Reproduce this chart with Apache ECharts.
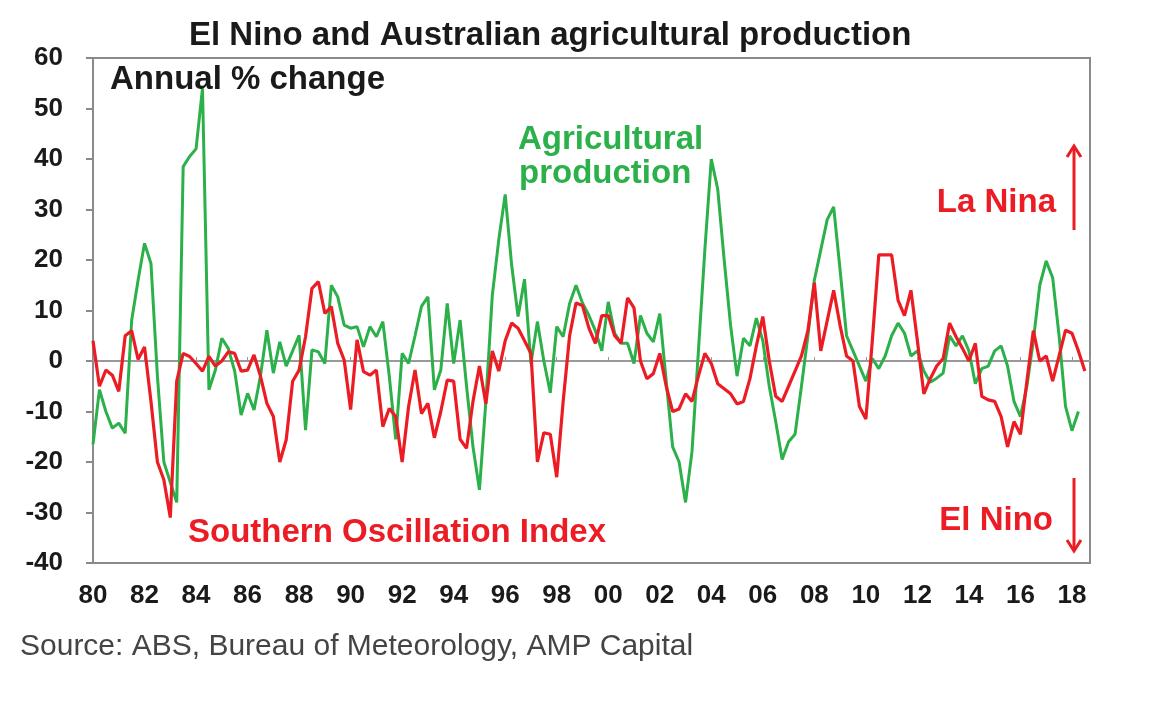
<!DOCTYPE html>
<html>
<head>
<meta charset="utf-8">
<title>El Nino and Australian agricultural production</title>
<script src="https://cdn.jsdelivr.net/npm/echarts@6/dist/echarts.min.js"></script>
<style>
  html, body { margin: 0; padding: 0; background: #fff; }
  #chart { width: 1160px; height: 704px; }
</style>
</head>
<body>
<div id="chart"></div>
<script>
/* =========================================
   1. DATA (quarterly, annual % change)
   ========================================= */
const firstYear = 1980;
const quartersPerYear = 4;
const yearTicks = [80, 82, 84, 86, 88, 90, 92, 94, 96, 98, 0, 2, 4, 6, 8, 10, 12, 14, 16, 18];

// Agricultural production, annual % change, from Q1 1980
const agriProduction = [
  -16.5, -5.7, -10, -13.3, -12.3, -14.3, 8, 16, 23.3, 19.3,
  -3, -20, -24, -28, 38.5, 40.5, 42, 54, -5.7, -1.8,
  4.5, 2.5, -2, -10.7, -6.4, -9.7, -3, 6.1, -2.4, 3.8,
  -1, 2, 5.1, -13.7, 2.2, 1.8, -0.5, 15, 12.7, 7.1,
  6.5, 6.8, 2.8, 6.8, 4.8, 7.8, -3, -15.5, 1.5, -0.5,
  5, 10.8, 12.7, -5.7, -1.8, 11.4, -0.5, 8.1, -5, -17,
  -25.5, -8, 13, 24, 33, 19, 8.8, 16.2, -0.5, 7.8,
  0, -6.3, 6.8, 4.8, 11.4, 15, 11.5, 9, 6, 2,
  11.7, 5.5, 3.5, 3.5, -0.5, 9, 5.5, 3.8, 9.4, -4,
  -17, -20, -28, -18, 2, 22, 40, 34, 20, 7,
  -3, 4.5, 3, 8.5, 4, -5, -12, -19.5, -16, -14.5,
  -5, 5, 16, 22, 28, 30.5, 18, 5, 2, -1,
  -4, 0.5, -1.5, 1, 5, 7.5, 5.5, 1, 2, -2,
  -4.2, -3.4, -2.4, 5, 3, 5, 2, -4.5, -1.5, -1,
  2, 3, -1, -8, -11, -5, 4, 15, 19.8, 16.5,
  5, -9, -13.8, -10
];

// Southern Oscillation Index, from Q1 1980
const soiIndex = [
  4, -5, -1.8, -2.8, -6, 5, 6, 0.3, 2.8, -8,
  -20, -23.5, -31, -4, 1.5, 0.9, -0.5, -2, 0.9, -1,
  0, 1.8, 1.5, -2, -1.8, 1.2, -3, -8.4, -11, -20,
  -15.6, -4, -1.8, 4.8, 14.4, 15.7, 9.4, 10.8, 3.5, 0.2,
  -9.6, 4.2, -2.1, -2.8, -1.8, -13, -9.4, -11, -20, -9,
  -1.8, -10.4, -8.4, -15.2, -10, -3.8, -4, -15.5, -17.3, -8,
  -1, -8.5, 2, -2, 4, 7.5, 6.5, 4, 1.5, -20,
  -14.2, -14.5, -23, -8, 5, 11.5, 11, 6.5, 3.5, 9,
  9, 5, 3.5, 12.5, 10.5, 0, -3.5, -2.5, 1.5, -5,
  -10, -9.5, -6.5, -8, -3, 1.5, -0.5, -4.5, -5.5, -6.5,
  -8.5, -8, -3.5, 3, 8.8, 0, -7, -8, -5, -2,
  1, 6, 15.5, 2, 8, 14, 7, 1, 0, -9,
  -11.5, 4, 21, 21, 21, 12, 9, 14, 4, -6.5,
  -3.5, -1, 0.5, 7.5, 4.8, 2.5, 0, 3.5, -7, -7.7,
  -8, -11, -17, -12, -14.5, -4, 6, 0, 1, -4,
  1, 6.1, 5.5, 2, -2
];

const GREEN = "#2bb04a";
const RED = "#ec1c24";
const FRAME = "#8a8a8a";
const FONT = "'Liberation Sans', Arial, Helvetica, sans-serif";

function toPoints(values) {
  return values.map((v, i) => [firstYear + i / quartersPerYear, v]);
}

/* =========================================
   2. CHART
   ========================================= */
function initChart() {
  const dom = document.getElementById("chart");
  const chart = echarts.init(dom, null, { renderer: "canvas" });

  const textStyle = (size, color, weight) => ({
    fontFamily: FONT, fontSize: size, fontWeight: weight || "bold", color: color
  });

  const option = {
    backgroundColor: "#ffffff",
    animation: false,
    title: {
      text: "El Nino and Australian agricultural production",
      left: 184,
      top: 14,
      textStyle: textStyle(33, "#1a1a1a")
    },
    grid: {
      left: 93, right: 70, top: 58, bottom: 141,
      show: true, borderColor: FRAME, borderWidth: 2
    },
    xAxis: [
      {
        type: "value",
        min: 1980, max: 2018.7, interval: 2,
        position: "bottom",
        axisLine: { onZero: false, lineStyle: { color: FRAME, width: 2 } },
        axisTick: { show: false },
        splitLine: { show: false },
        axisLabel: {
          margin: 20,
          ...textStyle(26, "#1a1a1a"),
          formatter: (value) => {
            if (!Number.isInteger(value) || value % 2 !== 0) return "";
            const two = value % 100;
            return yearTicks.includes(two) ? String(two).padStart(2, "0") : "";
          }
        }
      },
      {
        // zero line with small tick marks
        type: "value",
        min: 1980, max: 2018.7, interval: 2,
        position: "top",
        axisLine: { onZero: true, onZeroAxisIndex: 0, lineStyle: { color: "#999", width: 2 } },
        axisTick: { show: true, length: 4, lineStyle: { color: "#999", width: 1 } },
        axisLabel: { show: false },
        splitLine: { show: false }
      }
    ],
    yAxis: {
      type: "value",
      min: -40, max: 60, interval: 10,
      axisLine: { show: true, lineStyle: { color: FRAME, width: 2 } },
      axisTick: { show: true, length: 7, lineStyle: { color: FRAME, width: 2 } },
      splitLine: { show: false },
      axisLabel: { margin: 30, ...textStyle(26, "#1a1a1a") }
    },
    series: [
      {
        name: "Agricultural production",
        type: "line",
        xAxisIndex: 0,
        data: toPoints(agriProduction),
        symbol: "none",
        lineStyle: { color: GREEN, width: 3 },
        itemStyle: { color: GREEN },
        z: 3
      },
      {
        name: "Southern Oscillation Index",
        type: "line",
        xAxisIndex: 0,
        data: toPoints(soiIndex),
        symbol: "none",
        lineStyle: { color: RED, width: 3.2 },
        itemStyle: { color: RED },
        z: 4
      }
    ],
    graphic: [
      makeText("Annual % change", 110, 80, "#1a1a1a", "left"),
      makeText("Agricultural", 518, 140, GREEN, "left"),
      makeText("production", 519, 174, GREEN, "left"),
      makeText("Southern Oscillation Index", 188, 533, RED, "left"),
      makeText("La Nina", 1056, 203, RED, "right"),
      makeText("El Nino", 1053, 521, RED, "right"),
      {
        type: "text",
        left: 20, top: 632,
        style: {
          text: "Source: ABS, Bureau of Meteorology, AMP Capital",
          font: "30px " + FONT,
          fill: "#444"
        }
      },
      // La Nina arrow (up)
      { type: "line", shape: { x1: 1074, y1: 230, x2: 1074, y2: 147 }, style: { stroke: RED, lineWidth: 3 } },
      { type: "polyline", shape: { points: [[1067, 157], [1074, 146], [1081, 157]] }, style: { stroke: RED, lineWidth: 3, fill: null } },
      // El Nino arrow (down)
      { type: "line", shape: { x1: 1074, y1: 478, x2: 1074, y2: 550 }, style: { stroke: RED, lineWidth: 3 } },
      { type: "polyline", shape: { points: [[1067, 540], [1074, 551], [1081, 540]] }, style: { stroke: RED, lineWidth: 3, fill: null } }
    ]
  };

  chart.setOption(option);
  window.addEventListener("resize", () => chart.resize());
}

function makeText(text, x, y, color, align) {
  return {
    type: "text",
    x: x, y: y,
    style: {
      text: text,
      font: "bold 33px " + FONT,
      fill: color,
      textAlign: align,
      textVerticalAlign: "middle",
      align: align,
      verticalAlign: "middle"
    },
    z: 10
  };
}

document.addEventListener("DOMContentLoaded", initChart);
</script>
</body>
</html>
